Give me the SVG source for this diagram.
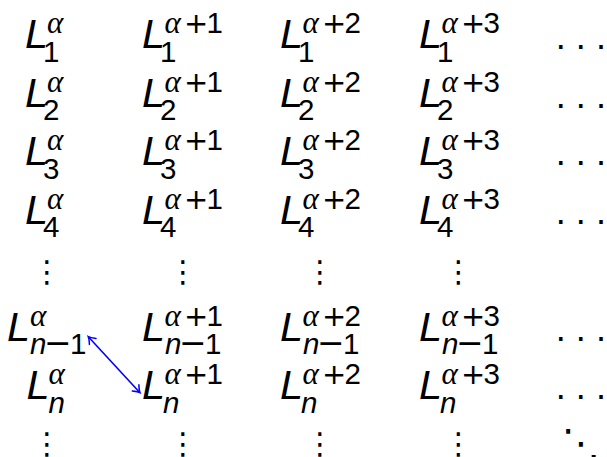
<svg xmlns="http://www.w3.org/2000/svg" width="607" height="457" viewBox="0 0 607 457">
<style>
text{font-family:"Liberation Sans",sans-serif;fill:#000}
.L{font-style:italic;font-size:41.5px}
.d{font-size:29.5px}
.p{font-family:"DejaVu Sans",sans-serif;font-size:29px}
.m{font-family:"DejaVu Sans",sans-serif;font-size:33px}
.n{font-style:italic;font-size:29.5px}
.a{font-family:"Liberation Serif",serif;font-style:italic;font-size:31px}
.dots{font-size:36px}
.v{font-family:"DejaVu Sans",sans-serif;font-size:30px;text-anchor:middle}
.dd{font-family:"DejaVu Sans",sans-serif;font-size:38px;text-anchor:middle}
</style>
<defs>
<marker id="ah" viewBox="-8 -6 10 12" markerWidth="10" markerHeight="12" refX="0" refY="0" orient="auto-start-reverse" markerUnits="userSpaceOnUse">
<path d="M-6.5,-4.5 Q-2.2,-0.8 0,0 Q-2.2,0.8 -6.5,4.5" fill="none" stroke="#0000ff" stroke-width="1.5" stroke-linecap="round"/>
</marker>
</defs>
<rect width="607" height="457" fill="#fff"/>
<g id="r1">
<g id="c1r1"><text><tspan class="L" x="25" y="48">L</tspan><tspan class="a" x="47" y="33">α</tspan><tspan class="d" x="43" y="61.5">1</tspan></text></g>
<g id="c2r1"><text><tspan class="L" x="142" y="48">L</tspan><tspan class="a" x="164.5" y="33">α</tspan><tspan class="p" x="184" y="33">+</tspan><tspan class="d" x="206.5" y="33">1</tspan><tspan class="d" x="160" y="61.5">1</tspan></text></g>
<g id="c3r1"><text><tspan class="L" x="280" y="48">L</tspan><tspan class="a" x="302.5" y="33">α</tspan><tspan class="p" x="322" y="33">+</tspan><tspan class="d" x="344.5" y="33">2</tspan><tspan class="d" x="298" y="61.5">1</tspan></text></g>
<g id="c4r1"><text><tspan class="L" x="419" y="48">L</tspan><tspan class="a" x="441.5" y="33">α</tspan><tspan class="p" x="461" y="33">+</tspan><tspan class="d" x="483.5" y="33">3</tspan><tspan class="d" x="437" y="61.5">1</tspan></text></g>
<g id="e1"><text class="dots" x="555.7 575.7 596" y="48.6">...</text></g>
</g>
<g id="r2">
<g id="c1r2"><text><tspan class="L" x="25" y="106.5">L</tspan><tspan class="a" x="47" y="91.5">α</tspan><tspan class="d" x="43" y="120">2</tspan></text></g>
<g id="c2r2"><text><tspan class="L" x="142" y="106.5">L</tspan><tspan class="a" x="164.5" y="91.5">α</tspan><tspan class="p" x="184" y="91.5">+</tspan><tspan class="d" x="206.5" y="91.5">1</tspan><tspan class="d" x="160" y="120">2</tspan></text></g>
<g id="c3r2"><text><tspan class="L" x="280" y="106.5">L</tspan><tspan class="a" x="302.5" y="91.5">α</tspan><tspan class="p" x="322" y="91.5">+</tspan><tspan class="d" x="344.5" y="91.5">2</tspan><tspan class="d" x="298" y="120">2</tspan></text></g>
<g id="c4r2"><text><tspan class="L" x="419" y="106.5">L</tspan><tspan class="a" x="441.5" y="91.5">α</tspan><tspan class="p" x="461" y="91.5">+</tspan><tspan class="d" x="483.5" y="91.5">3</tspan><tspan class="d" x="437" y="120">2</tspan></text></g>
<g id="e2"><text class="dots" x="555.7 575.7 596" y="108">...</text></g>
</g>
<g id="r3">
<g id="c1r3"><text><tspan class="L" x="25" y="165">L</tspan><tspan class="a" x="47" y="150">α</tspan><tspan class="d" x="43" y="178.5">3</tspan></text></g>
<g id="c2r3"><text><tspan class="L" x="142" y="165">L</tspan><tspan class="a" x="164.5" y="150">α</tspan><tspan class="p" x="184" y="150">+</tspan><tspan class="d" x="206.5" y="150">1</tspan><tspan class="d" x="160" y="178.5">3</tspan></text></g>
<g id="c3r3"><text><tspan class="L" x="280" y="165">L</tspan><tspan class="a" x="302.5" y="150">α</tspan><tspan class="p" x="322" y="150">+</tspan><tspan class="d" x="344.5" y="150">2</tspan><tspan class="d" x="298" y="178.5">3</tspan></text></g>
<g id="c4r3"><text><tspan class="L" x="419" y="165">L</tspan><tspan class="a" x="441.5" y="150">α</tspan><tspan class="p" x="461" y="150">+</tspan><tspan class="d" x="483.5" y="150">3</tspan><tspan class="d" x="437" y="178.5">3</tspan></text></g>
<g id="e3"><text class="dots" x="555.7 575.7 596" y="165.3">...</text></g>
</g>
<g id="r4">
<g id="c1r4"><text><tspan class="L" x="25" y="223.5">L</tspan><tspan class="a" x="47" y="208.5">α</tspan><tspan class="d" x="43" y="237">4</tspan></text></g>
<g id="c2r4"><text><tspan class="L" x="142" y="223.5">L</tspan><tspan class="a" x="164.5" y="208.5">α</tspan><tspan class="p" x="184" y="208.5">+</tspan><tspan class="d" x="206.5" y="208.5">1</tspan><tspan class="d" x="160" y="237">4</tspan></text></g>
<g id="c3r4"><text><tspan class="L" x="280" y="223.5">L</tspan><tspan class="a" x="302.5" y="208.5">α</tspan><tspan class="p" x="322" y="208.5">+</tspan><tspan class="d" x="344.5" y="208.5">2</tspan><tspan class="d" x="298" y="237">4</tspan></text></g>
<g id="c4r4"><text><tspan class="L" x="419" y="223.5">L</tspan><tspan class="a" x="441.5" y="208.5">α</tspan><tspan class="p" x="461" y="208.5">+</tspan><tspan class="d" x="483.5" y="208.5">3</tspan><tspan class="d" x="437" y="237">4</tspan></text></g>
<g id="e4"><text class="dots" x="555.7 575.7 596" y="223.7">...</text></g>
</g>
<g id="vd1">
<text class="v" x="47" y="282">⋮</text>
<text class="v" x="183" y="282">⋮</text>
<text class="v" x="320" y="282">⋮</text>
<text class="v" x="458.5" y="282">⋮</text>
</g>
<g id="rn1">
<g id="c1rn1"><text><tspan class="L" x="7" y="340.5">L</tspan><tspan class="a" x="30" y="325.5">α</tspan><tspan class="n" x="30" y="354">n</tspan><tspan class="m" x="44" y="354">−</tspan><tspan class="d" x="70" y="354">1</tspan></text></g>
<g id="c2rn1"><text><tspan class="L" x="142" y="340.5">L</tspan><tspan class="a" x="164.5" y="325.5">α</tspan><tspan class="p" x="184" y="325.5">+</tspan><tspan class="d" x="206.5" y="325.5">1</tspan><tspan class="n" x="165" y="354">n</tspan><tspan class="m" x="179" y="354">−</tspan><tspan class="d" x="205" y="354">1</tspan></text></g>
<g id="c3rn1"><text><tspan class="L" x="280" y="340.5">L</tspan><tspan class="a" x="302.5" y="325.5">α</tspan><tspan class="p" x="322" y="325.5">+</tspan><tspan class="d" x="344.5" y="325.5">2</tspan><tspan class="n" x="303" y="354">n</tspan><tspan class="m" x="317" y="354">−</tspan><tspan class="d" x="343" y="354">1</tspan></text></g>
<g id="c4rn1"><text><tspan class="L" x="419" y="340.5">L</tspan><tspan class="a" x="441.5" y="325.5">α</tspan><tspan class="p" x="461" y="325.5">+</tspan><tspan class="d" x="483.5" y="325.5">3</tspan><tspan class="n" x="442" y="354">n</tspan><tspan class="m" x="456" y="354">−</tspan><tspan class="d" x="482" y="354">1</tspan></text></g>
<g id="e5"><text class="dots" x="555.7 575.7 596" y="340.6">...</text></g>
</g>
<g id="rn">
<g id="c1rn"><text><tspan class="L" x="26.5" y="399">L</tspan><tspan class="a" x="48.5" y="384">α</tspan><tspan class="n" x="48.5" y="412.5">n</tspan></text></g>
<g id="c2rn"><text><tspan class="L" x="142" y="399">L</tspan><tspan class="a" x="164.5" y="384">α</tspan><tspan class="p" x="184" y="384">+</tspan><tspan class="d" x="206.5" y="384">1</tspan><tspan class="n" x="163" y="412.5">n</tspan></text></g>
<g id="c3rn"><text><tspan class="L" x="280" y="399">L</tspan><tspan class="a" x="302.5" y="384">α</tspan><tspan class="p" x="322" y="384">+</tspan><tspan class="d" x="344.5" y="384">2</tspan><tspan class="n" x="301" y="412.5">n</tspan></text></g>
<g id="c4rn"><text><tspan class="L" x="419" y="399">L</tspan><tspan class="a" x="441.5" y="384">α</tspan><tspan class="p" x="461" y="384">+</tspan><tspan class="d" x="483.5" y="384">3</tspan><tspan class="n" x="440" y="412.5">n</tspan></text></g>
<g id="e6"><text class="dots" x="555.7 575.7 596" y="399.2">...</text></g>
</g>
<g id="vd2">
<text class="v" x="47" y="454">⋮</text>
<text class="v" x="183" y="454">⋮</text>
<text class="v" x="320" y="454">⋮</text>
<text class="v" x="458.5" y="454">⋮</text>
<text class="dd" x="581" y="456">⋱</text>
</g>
<g id="connectors">
<line x1="88.3" y1="336.7" x2="140" y2="392.7" stroke="#0000ff" stroke-width="1.6" marker-start="url(#ah)" marker-end="url(#ah)"/>
</g>
</svg>
